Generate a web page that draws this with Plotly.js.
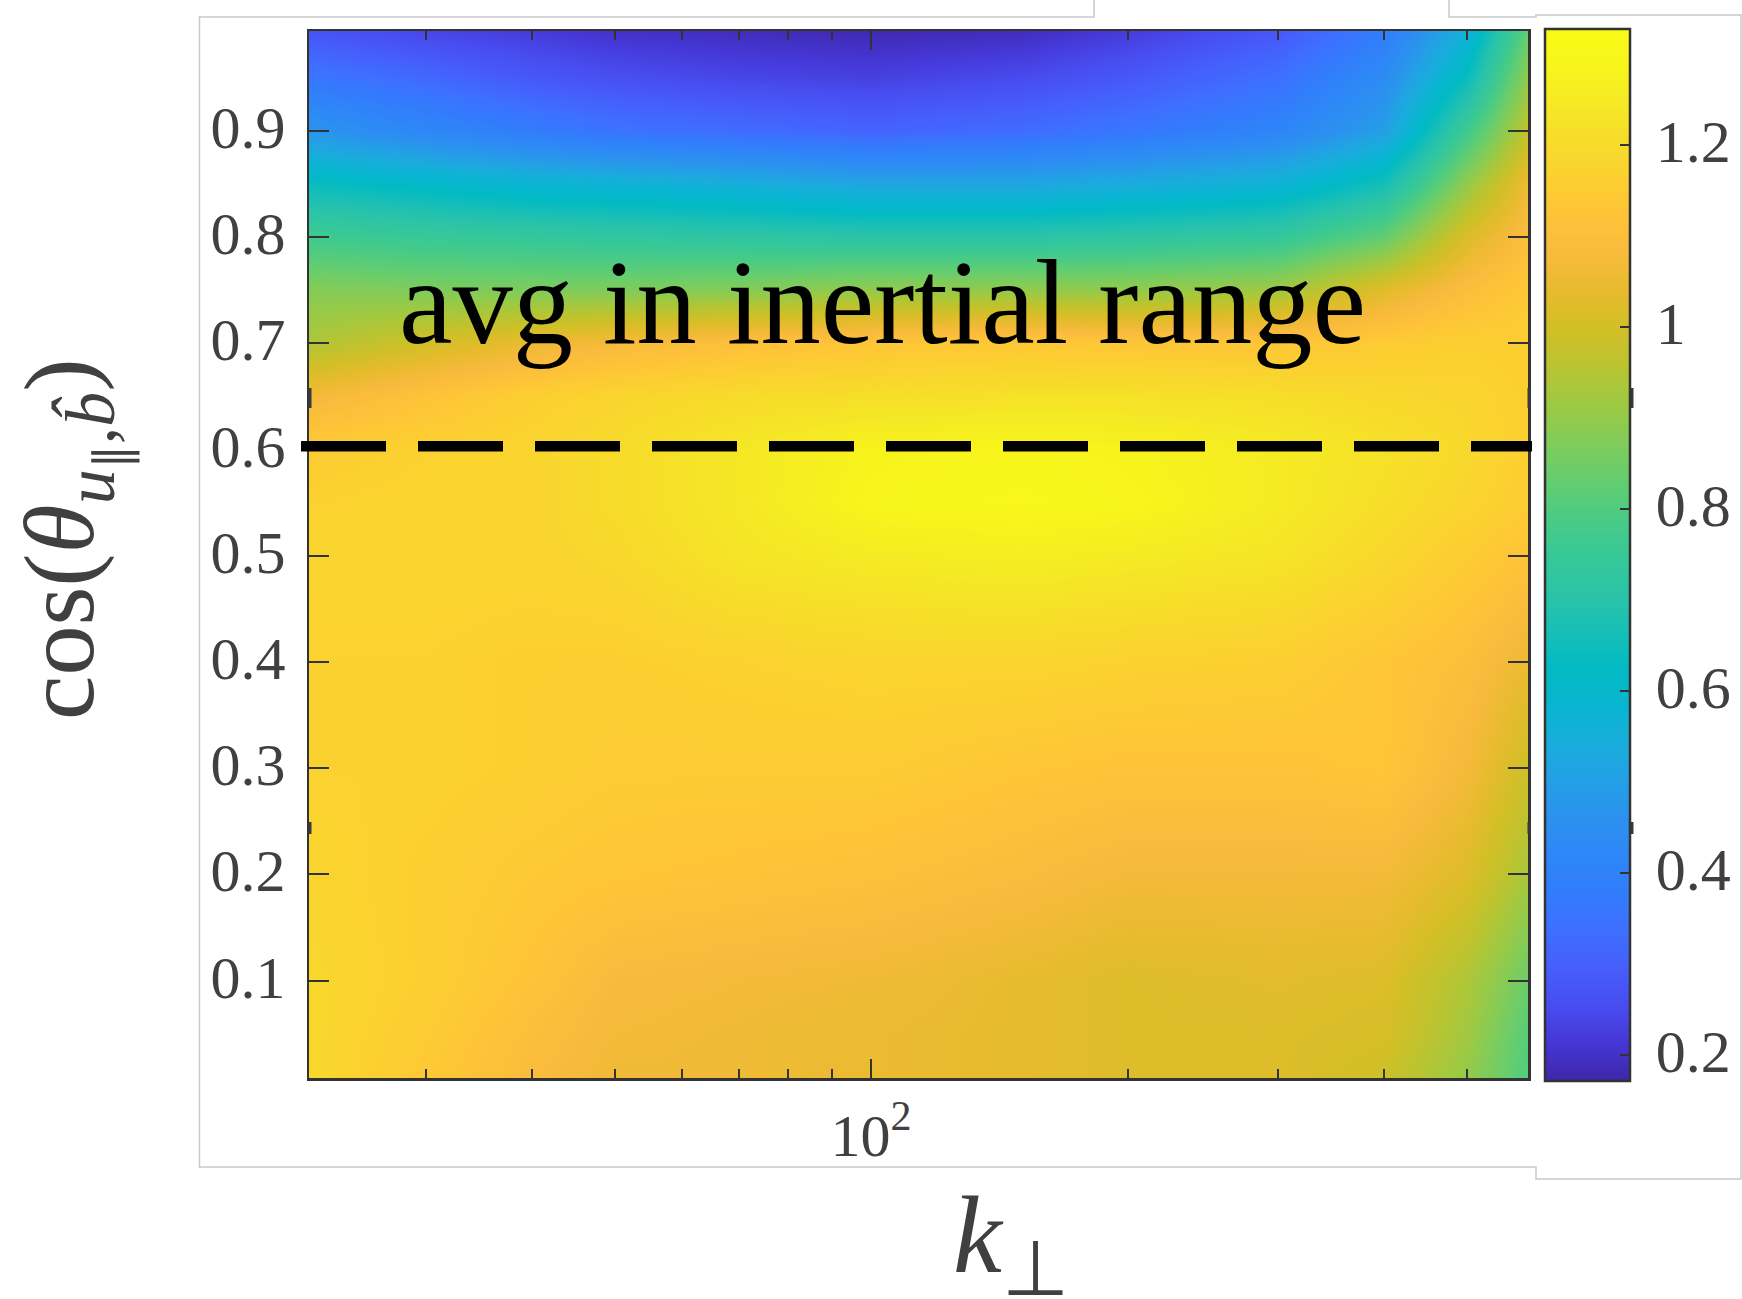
<!DOCTYPE html>
<html><head><meta charset="utf-8">
<script src="https://cdn.plot.ly/plotly-3.0.1.min.js"></script>
<style>html,body{margin:0;padding:0;background:#fff;overflow:hidden}#c{width:1742px;height:1299px}</style>
</head><body><div id="c"></div>
<script>
const kPerp = [22,30,40,50,70,100,150,200,300,400,500,590];
const cosTheta = [0.008,0.05,0.1,0.2,0.3,0.4,0.5,0.55,0.6,0.65,0.7,0.75,0.8,0.85,0.9,0.95,0.994];
const row008 = [1.19,1.14,1.09,1.06,1.06,1.05,1.04,1.02,1.02,0.99,0.90,0.80];
const row05  = [1.19,1.15,1.10,1.07,1.06,1.05,1.04,1.02,1.02,1.01,0.92,0.81];
const row10  = [1.19,1.16,1.12,1.08,1.07,1.06,1.04,1.02,1.03,1.02,0.94,0.84];
const row20  = [1.18,1.16,1.14,1.13,1.12,1.11,1.09,1.07,1.07,1.07,1.02,0.93];
const row30  = [1.17,1.17,1.16,1.15,1.15,1.15,1.13,1.12,1.12,1.13,1.07,0.99];
const row40  = [1.17,1.17,1.16,1.16,1.17,1.18,1.18,1.17,1.16,1.13,1.10,1.05];
const row50  = [1.18,1.18,1.18,1.19,1.23,1.25,1.26,1.25,1.23,1.19,1.15,1.12];
const row55  = [1.17,1.18,1.18,1.20,1.24,1.29,1.30,1.29,1.25,1.21,1.18,1.15];
const row60  = [1.15,1.17,1.18,1.20,1.24,1.28,1.29,1.28,1.25,1.22,1.19,1.16];
const row65  = [1.07,1.12,1.16,1.18,1.20,1.21,1.22,1.22,1.21,1.19,1.18,1.16];
const row70  = [0.94,1.00,1.05,1.08,1.11,1.13,1.14,1.13,1.13,1.15,1.16,1.16];
const row75  = [0.88,0.87,0.87,0.87,0.88,0.90,0.90,0.90,0.92,1.03,1.10,1.14];
const row80  = [0.77,0.75,0.74,0.73,0.72,0.71,0.71,0.72,0.74,0.83,1.02,1.10];
const row85  = [0.64,0.61,0.58,0.57,0.55,0.52,0.52,0.54,0.57,0.66,0.90,1.06];
const row90  = [0.47,0.42,0.38,0.35,0.33,0.31,0.33,0.36,0.41,0.50,0.77,0.97];
const row95  = [0.36,0.32,0.28,0.26,0.24,0.23,0.25,0.28,0.34,0.44,0.64,0.90];
const row994 = [0.27,0.24,0.22,0.20,0.19,0.18,0.19,0.22,0.28,0.38,0.56,0.83];
const zRows = [row008,row05,row10,row20,row30,row40,row50,row55,row60,row65,row70,row75,row80,row85,row90,row95,row994];

const parula = [[0.2422,0.1504,0.6603],[0.2706,0.2147,0.8364],[0.2813,0.3006,0.9414],[0.2760,0.3667,0.9829],[0.2440,0.4358,0.9988],[0.1963,0.4847,0.9892],[0.1786,0.5289,0.9682],[0.1687,0.5703,0.9359],[0.1380,0.6276,0.8973],[0.0952,0.6798,0.8598],[0.0297,0.7082,0.8163],[0.0067,0.7312,0.7660],[0.0964,0.7500,0.7120],[0.1717,0.7670,0.6554],[0.2161,0.7843,0.5923],[0.2906,0.7973,0.5188],[0.3909,0.8029,0.4354],[0.5044,0.7993,0.3480],[0.6174,0.7876,0.2612],[0.7242,0.7698,0.1910],[0.8203,0.7498,0.1535],[0.9035,0.7330,0.1774],[0.9728,0.7298,0.2394],[0.9970,0.7659,0.2199],[0.9892,0.8136,0.1885],[0.9676,0.8639,0.1650],[0.9597,0.9135,0.1423],[0.9691,0.9606,0.1064],[0.9769,0.9839,0.0805]];
const colorscale = parula.map((c,i)=>[i/(parula.length-1),`rgb(${c.map(v=>Math.round(v*255)).join(',')})`]);

const yTicks = [0.1,0.2,0.3,0.4,0.5,0.6,0.7,0.8,0.9];
const xMajorTicks = [100];
const xMajorLabels = ['10<sup>2</sup>'];
const xMinorTicks = [30,40,50,60,70,80,90,200,300,400,500];
const cbTicks = [0.2,0.4,0.6,0.8,1,1.2];
const cbLabels = ['\u00a00.2','\u00a00.4','\u00a00.6','\u00a00.8','\u00a01','\u00a01.2'];
const refLevel = 0.603;
const W=1742,H=1299,L=309,R=1528,T=31,B=1078;
const fx=p=>(p-L)/(R-L), fy=p=>(B-p)/(B-T);
const serif='"Liberation Serif","Times New Roman",serif';
const ink='#404040';
function pathPx(pts){return pts.map((p,i)=>(i?'L':'M')+fx(p[0]).toFixed(5)+','+fy(p[1]).toFixed(5)).join(' ');}
const frame={color:'#c9c9c9',width:1.5};
const shapes=[
 {type:'path',xref:'paper',yref:'paper',layer:'below',line:frame,path:pathPx([[1094,0],[1094,17],[199.5,17],[199.5,1167],[1536,1167],[1536,1179],[1741,1179],[1741,15],[1536,15],[1536,17],[1449,17],[1449,0]])},
 {type:'line',xref:'paper',yref:'y',x0:fx(301),x1:fx(1532),y0:refLevel,y1:refLevel,line:{color:'#000',width:10.5,dash:'85px,32px'}}
];
[[310,388,408],[1529,388,408],[1546,388,408],[1632,388,408],[310,822,834],[1529,822,834],[1546,822,834],[1632,822,834]].forEach(b=>{
 shapes.push({type:'line',xref:'paper',yref:'paper',x0:fx(b[0]),x1:fx(b[0]),y0:fy(b[1]),y1:fy(b[2]),line:{color:'#3a3a3a',width:3}});
});
const trace={type:'heatmap',x:kPerp,y:cosTheta,z:zRows,zsmooth:'best',colorscale,zmin:0.171,zmax:1.3275,hoverinfo:'skip',
 colorbar:{thicknessmode:'pixels',thickness:85,lenmode:'pixels',len:1052,x:fx(1545),xanchor:'left',xpad:0,y:fy(29),yanchor:'top',ypad:0,
  outlinecolor:'#333',outlinewidth:2.5,tickmode:'array',tickvals:cbTicks,ticktext:cbLabels,ticks:'inside',ticklen:11,tickwidth:2,tickcolor:'#333',
  tickfont:{family:serif,size:60,color:ink}}};
const layout={width:W,height:H,margin:{l:L,r:W-R,t:T,b:H-B,pad:0,autoexpand:false},paper_bgcolor:'#fff',plot_bgcolor:'#fff',showlegend:false,
 xaxis:{type:'log',range:[1.3404,2.771],tickmode:'array',tickvals:xMajorTicks,ticktext:xMajorLabels,ticks:'inside',ticklen:19,tickwidth:2,tickcolor:'#333',
  minor:{ticks:'inside',ticklen:9,tickwidth:2,tickcolor:'#333',tickvals:xMinorTicks,showgrid:false},
  showgrid:false,zeroline:false,showline:true,linecolor:'#333',linewidth:2.5,mirror:'ticks',ticklabelstandoff:3,
  tickfont:{family:serif,size:60,color:ink}},
 yaxis:{range:[0.0083,0.994],tickmode:'array',tickvals:yTicks,ticktext:yTicks.map(String),ticks:'inside',ticklen:20,tickwidth:2,tickcolor:'#333',
  showgrid:false,zeroline:false,showline:true,linecolor:'#333',linewidth:2.5,mirror:'ticks',ticklabelstandoff:9,ticklabelshift:-4,
  tickfont:{family:serif,size:60,color:ink}},
 shapes,
 annotations:[
  {text:'avg in inertial range',xref:'paper',yref:'paper',x:fx(398),y:fy(342),xanchor:'left',yanchor:'bottom',yshift:-28,showarrow:false,borderpad:0,font:{family:serif,size:120.5,color:'#000'}},
  {text:'<i>k</i><sub>⊥</sub>',xref:'paper',yref:'paper',x:fx(1011),y:fy(1243),xanchor:'center',yanchor:'middle',showarrow:false,borderpad:0,font:{family:serif,size:110,color:ink}},
  {text:'cos(<i>θ</i><sub><i>u</i><sub>∥</sub>,<i>b̂</i></sub>)',xref:'paper',yref:'paper',x:fx(72),y:fy(537),xanchor:'center',yanchor:'middle',yshift:-2,textangle:-90,showarrow:false,borderpad:0,font:{family:serif,size:100,color:ink}}
 ]
};
Plotly.newPlot('c',[trace],layout,{displayModeBar:false,staticPlot:true}).then(gd=>{
 gd.querySelectorAll('.colorbar text').forEach(t=>{
  t.setAttribute('x',parseFloat(t.getAttribute('x')||0)-3);
  t.setAttribute('y',parseFloat(t.getAttribute('y')||0)-4);
 });
});
</script></body></html>
